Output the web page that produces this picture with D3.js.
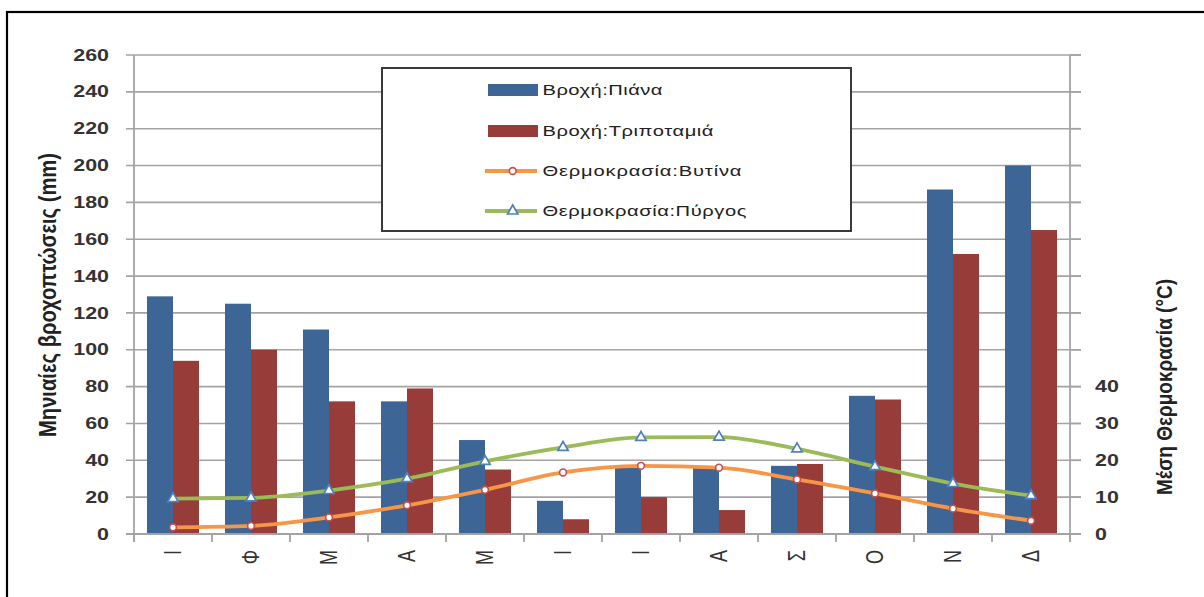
<!DOCTYPE html>
<html>
<head>
<meta charset="utf-8">
<script src="https://cdn.jsdelivr.net/npm/d3@7/dist/d3.min.js"></script>
<style>
  html, body { margin: 0; padding: 0; background: #fff; }
  svg { display: block; }
  text { font-family: "Liberation Sans", Arial, sans-serif; }
</style>
</head>
<body>
<svg id="chart" width="1204" height="597"></svg>
<script>
// Month initials (Greek) along the category axis
const months = ["Ι", "Φ", "Μ", "Α", "Μ", "Ι", "Ι", "Α", "Σ", "Ο", "Ν", "Δ"];
// Monthly rainfall (mm)
const rainPiana = [129, 125, 111, 72, 51, 18, 36, 36, 37, 75, 187, 200];
const rainTripotamia = [94, 100, 72, 79, 35, 8, 20, 13, 38, 73, 152, 165];
// Mean monthly temperature (°C)
const tempVytina = [1.8, 2.2, 4.5, 7.8, 12.0, 16.7, 18.5, 18.0, 14.8, 11.0, 6.9, 3.6];
const tempPyrgos = [9.6, 9.8, 11.8, 15.0, 19.7, 23.5, 26.2, 26.3, 23.1, 18.3, 13.7, 10.4];
// Axis ticks
const rainTicks = d3.range(0, 261, 20);
const tempTickLabels = [0, 10, 20, 30, 40];
const tempTickMarks = d3.range(0, 131, 10);
// Series names for the legend
const seriesNames = ["Βροχή:Πιάνα", "Βροχή:Τριποταμιά", "Θερμοκρασία:Βυτίνα", "Θερμοκρασία:Πύργος"];
const axisTitleLeft = "Μηνιαίες βροχοπτώσεις (mm)";
const axisTitleRight = "Μέση Θερμοκρασία (°C)";

const COL_BLUE = "#3d6596";
const COL_RED = "#983c3a";
const COL_ORANGE = "#f79646";
const COL_GREEN = "#9bbb59";
const GRID = "#a3a3a3";
const SX = 1.3; // horizontal stretch of all lettering

const svg = d3.select("#chart");
const plot = { left: 134, right: 1070, top: 55, bottom: 534 };

const x0 = d3.scaleBand().domain(d3.range(months.length)).range([plot.left, plot.right]);
const x1 = d3.scaleBand().domain([0, 1]).range([0, x0.bandwidth()]).paddingOuter(0.5);
const yRain = d3.scaleLinear().domain([0, 260]).range([plot.bottom, plot.top]);
const yTemp = d3.scaleLinear().domain([0, 130]).range([plot.bottom, plot.top]);

// Outer frame
svg.append("rect")
  .attr("x", 7).attr("y", 12).attr("width", 1400).attr("height", 800)
  .attr("fill", "none").attr("stroke", "#000").attr("stroke-width", 2.2);

// Gridlines with left and right tick stubs
svg.append("g").selectAll("line").data(rainTicks).join("line")
  .attr("x1", plot.left - 8).attr("x2", plot.right + 11)
  .attr("y1", d => yRain(d)).attr("y2", d => yRain(d))
  .attr("stroke", GRID).attr("stroke-width", 1.6);

// Left axis labels
const yAxisL = d3.axisLeft(yRain).tickValues(rainTicks).tickSize(0).tickPadding(0);
const gL = svg.append("g").attr("transform", `translate(${plot.left - 25},0)`).call(yAxisL);
gL.select(".domain").remove();
gL.selectAll("text")
  .attr("x", null).attr("dy", null)
  .attr("text-anchor", "end").attr("dominant-baseline", "central")
  .attr("transform", d => `translate(0,${yRain(d)}) scale(${SX},1)`)
  .attr("y", 0)
  .style("font-family", "'Liberation Sans', Arial, sans-serif")
  .style("font-size", "16.5px").style("font-weight", "bold").attr("fill", "#333");
gL.selectAll(".tick").attr("transform", null);

// Right axis: tick marks every 10, labels only 0–40
svg.append("g").selectAll("line").data(tempTickMarks).join("line")
  .attr("x1", plot.right).attr("x2", plot.right + 11)
  .attr("y1", d => yTemp(d)).attr("y2", d => yTemp(d))
  .attr("stroke", GRID).attr("stroke-width", 1.6);
svg.append("g").selectAll("text").data(tempTickLabels).join("text")
  .attr("transform", d => `translate(1095,${yTemp(d)}) scale(${SX},1)`)
  .attr("dominant-baseline", "central")
  .style("font-size", "16.5px").style("font-weight", "bold").attr("fill", "#333")
  .text(d => d);

// Axis lines
svg.append("line").attr("x1", plot.left).attr("x2", plot.left)
  .attr("y1", plot.top).attr("y2", plot.bottom + 8)
  .attr("stroke", GRID).attr("stroke-width", 1.8);
svg.append("line").attr("x1", plot.right).attr("x2", plot.right)
  .attr("y1", plot.top).attr("y2", plot.bottom + 8)
  .attr("stroke", GRID).attr("stroke-width", 1.8);

// Category tick marks at band boundaries
const bounds = d3.range(months.length + 1).map(i => plot.left + i * x0.step());
svg.append("g").selectAll("line").data(bounds).join("line")
  .attr("x1", d => d).attr("x2", d => d)
  .attr("y1", plot.bottom).attr("y2", plot.bottom + 8)
  .attr("stroke", GRID).attr("stroke-width", 1.8);

// Bars
const barSeries = [rainPiana, rainTripotamia];
const barColors = [COL_BLUE, COL_RED];
barSeries.forEach((vals, s) => {
  svg.append("g").selectAll("rect").data(vals).join("rect")
    .attr("x", (d, i) => x0(i) + x1(s))
    .attr("width", x1.bandwidth())
    .attr("y", d => yRain(d))
    .attr("height", d => yRain(0) - yRain(d))
    .attr("fill", barColors[s]);
});

// Bottom axis line (over the bar bases)
svg.append("line").attr("x1", plot.left - 8).attr("x2", plot.right + 11)
  .attr("y1", plot.bottom).attr("y2", plot.bottom)
  .attr("stroke", GRID).attr("stroke-width", 1.8);

// Category labels, rotated
svg.append("g").selectAll("text").data(months).join("text")
  .attr("transform", (d, i) => `translate(${x0(i) + x0.bandwidth() / 2},550) scale(${SX},1) rotate(-90)`)
  .attr("text-anchor", "end").attr("dominant-baseline", "central")
  .style("font-size", "18px").attr("fill", "#333")
  .text(d => d);

// Temperature lines
const cx = i => x0(i) + x0.bandwidth() / 2;
const line = d3.line().x((d, i) => cx(i)).y(d => yTemp(d)).curve(d3.curveMonotoneX);
const triPath = d3.symbol().type(d3.symbolTriangle).size(46);

svg.append("path").datum(tempVytina).attr("d", line)
  .attr("fill", "none").attr("stroke", COL_ORANGE).attr("stroke-width", 3.8);
svg.append("path").datum(tempPyrgos).attr("d", line)
  .attr("fill", "none").attr("stroke", COL_GREEN).attr("stroke-width", 3.8);

svg.append("g").selectAll("circle").data(tempVytina).join("circle")
  .attr("cx", (d, i) => cx(i)).attr("cy", d => yTemp(d)).attr("r", 3.4)
  .attr("fill", "#fff").attr("stroke", "#c0504d").attr("stroke-width", 1.6);
svg.append("g").selectAll("path").data(tempPyrgos).join("path")
  .attr("transform", (d, i) => `translate(${cx(i)},${yTemp(d)})`)
  .attr("d", triPath)
  .attr("fill", "#fff").attr("stroke", "#4f81bd").attr("stroke-width", 1.7);

// Axis titles
svg.append("text")
  .attr("transform", `translate(48,295) scale(${SX},1) rotate(-90)`)
  .attr("text-anchor", "middle").attr("dominant-baseline", "central")
  .style("font-size", "18px").style("font-weight", "bold").attr("fill", "#222")
  .attr("textLength", 284).attr("lengthAdjust", "spacingAndGlyphs")
  .text(axisTitleLeft);
svg.append("text")
  .attr("transform", `translate(1165,387) scale(${SX},1) rotate(-90)`)
  .attr("text-anchor", "middle").attr("dominant-baseline", "central")
  .style("font-size", "16.5px").style("font-weight", "bold").attr("fill", "#222")
  .attr("textLength", 216).attr("lengthAdjust", "spacingAndGlyphs")
  .text(axisTitleRight);

// Legend
const lg = svg.append("g");
lg.append("rect").attr("x", 382).attr("y", 68).attr("width", 469).attr("height", 163)
  .attr("fill", "#fff").attr("stroke", "#3a3a3a").attr("stroke-width", 2);
const rowY = [90, 131, 171, 211];
const textWidths = [120, 171, 199, 204];
seriesNames.forEach((name, i) => {
  const y = rowY[i];
  if (i < 2) {
    lg.append("rect").attr("x", 488).attr("y", y - 6).attr("width", 50).attr("height", 12)
      .attr("fill", barColors[i]);
  } else {
    lg.append("line").attr("x1", 485).attr("x2", 537).attr("y1", y).attr("y2", y)
      .attr("stroke", i === 2 ? COL_ORANGE : COL_GREEN).attr("stroke-width", 3.8);
    if (i === 2) {
      lg.append("circle").attr("cx", 512.7).attr("cy", y).attr("r", 3.4)
        .attr("fill", "#fff").attr("stroke", "#c0504d").attr("stroke-width", 1.6);
    } else {
      lg.append("path").attr("transform", `translate(512.7,${y})`).attr("d", triPath)
        .attr("fill", "#fff").attr("stroke", "#4f81bd").attr("stroke-width", 1.7);
    }
  }
  lg.append("text")
    .attr("transform", `translate(542.5,${y}) scale(${SX},1)`)
    .attr("dominant-baseline", "central")
    .attr("textLength", textWidths[i] / SX).attr("lengthAdjust", "spacing")
    .style("font-size", "15.5px").attr("fill", "#222")
    .text(name);
});
</script>
</body>
</html>
